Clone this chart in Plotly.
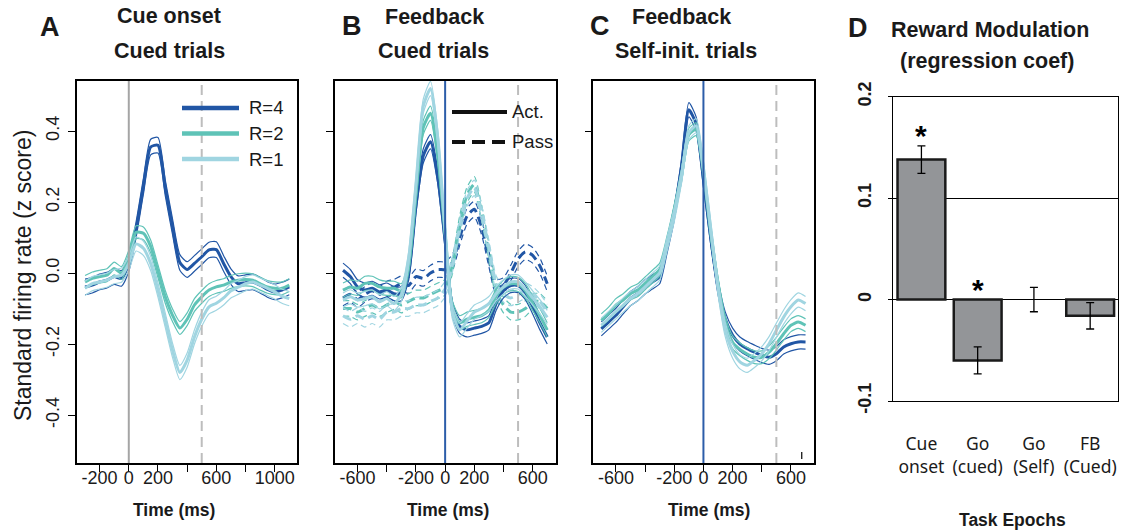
import plotly.graph_objects as go

W, H = 1133, 530
FONT = "Liberation Sans, Arial, Helvetica, sans-serif"
FONT_D = "Noto Sans, Open Sans, sans-serif"

# ---------------- data ----------------
reward_levels = ["R=4", "R=2", "R=1"]
reward_colors = ["#2156A5", "#5FC3B7", "#A0D5E1"]

# Panel A: cue onset, cued trials (mean z-score, SEM)
time_cue = list(range(-300, 1101, 50))
cue_r4 = [-0.039, -0.034, -0.025, -0.020, -0.010, -0.015, 0.027, 0.122, 0.244, 0.355,
          0.360, 0.240, 0.130, 0.030, 0.010, 0.027, 0.046, 0.065, 0.066, 0.027,
          -0.010, -0.030, -0.027, -0.025, -0.034, -0.046, -0.053, -0.048, -0.039]
cue_r2 = [-0.025, -0.015, -0.010, -0.006, 0.013, 0.000, 0.046, 0.115, 0.112, 0.075,
          0.005, -0.067, -0.119, -0.155, -0.130, -0.090, -0.067, -0.048, -0.039, -0.034,
          -0.025, -0.020, -0.018, -0.020, -0.030, -0.039, -0.043, -0.043, -0.034]
cue_r1 = [-0.043, -0.030, -0.025, -0.020, -0.010, -0.006, 0.027, 0.082, 0.070, 0.027,
          -0.048, -0.133, -0.218, -0.280, -0.245, -0.180, -0.130, -0.095, -0.085, -0.070,
          -0.050, -0.040, -0.030, -0.025, -0.034, -0.043, -0.053, -0.065, -0.072]
cue_sem = [0.022, 0.018, 0.020]

# Panel B: feedback, cued trials (active = solid, passive = dashed)
time_fb = list(range(-700, 701, 50))
fb_act_r4 = [0.008, -0.010, -0.039, -0.048, -0.043, -0.053, -0.048, -0.058, -0.058, 0.000,
             0.190, 0.330, 0.370, 0.270, 0.090, -0.100, -0.150, -0.160, -0.155, -0.150,
             -0.140, -0.085, -0.050, -0.035, -0.035, -0.055, -0.095, -0.140, -0.180]
fb_act_r2 = [-0.048, -0.039, -0.043, -0.029, -0.029, -0.039, -0.043, -0.043, -0.050, 0.020,
             0.220, 0.410, 0.450, 0.330, 0.110, -0.100, -0.140, -0.130, -0.125, -0.120,
             -0.105, -0.065, -0.040, -0.030, -0.032, -0.050, -0.085, -0.120, -0.160]
fb_act_r1 = [-0.076, -0.067, -0.076, -0.072, -0.067, -0.081, -0.072, -0.086, -0.060, 0.040,
             0.250, 0.470, 0.520, 0.380, 0.120, -0.110, -0.160, -0.135, -0.110, -0.100,
             -0.086, -0.058, -0.039, -0.025, -0.025, -0.045, -0.070, -0.095, -0.125]
fb_pas_r4 = [-0.070, -0.060, -0.075, -0.060, -0.050, -0.060, -0.045, -0.040, -0.030, -0.035,
             -0.010, -0.015, 0.000, 0.010, 0.010, 0.030, 0.100, 0.160, 0.180, 0.130,
             0.040, -0.040, -0.035, 0.000, 0.040, 0.060, 0.050, 0.020, -0.030]
fb_pas_r2 = [-0.100, -0.100, -0.110, -0.100, -0.090, -0.100, -0.090, -0.080, -0.090, -0.080,
             -0.070, -0.070, -0.060, -0.050, -0.040, 0.020, 0.140, 0.220, 0.250, 0.170,
             0.060, -0.050, -0.090, -0.110, -0.110, -0.100, -0.080, -0.080, -0.100]
fb_pas_r1 = [-0.120, -0.130, -0.120, -0.130, -0.120, -0.130, -0.110, -0.110, -0.100, -0.100,
             -0.090, -0.090, -0.080, -0.070, -0.045, 0.025, 0.130, 0.210, 0.240, 0.170,
             0.070, -0.030, -0.060, -0.070, -0.060, -0.050, -0.060, -0.080, -0.110]
fb_act_sem = [0.020, 0.020, 0.020]
fb_pas_sem = [0.022, 0.022, 0.022]

# Panel C: feedback, self-initiated trials
fb_self_r4 = [-0.157, -0.138, -0.119, -0.095, -0.072, -0.058, -0.039, -0.025, -0.010, 0.075,
              0.170, 0.300, 0.460, 0.420, 0.263, 0.100, -0.040, -0.130, -0.175, -0.200,
              -0.213, -0.223, -0.232, -0.237, -0.227, -0.208, -0.199, -0.194, -0.194]
fb_self_r2 = [-0.133, -0.114, -0.090, -0.076, -0.058, -0.048, -0.029, -0.010, 0.010, 0.085,
              0.175, 0.275, 0.390, 0.405, 0.285, 0.115, -0.030, -0.140, -0.195, -0.215,
              -0.228, -0.237, -0.237, -0.223, -0.199, -0.171, -0.147, -0.138, -0.147]
fb_self_r1 = [-0.147, -0.128, -0.109, -0.090, -0.072, -0.058, -0.039, -0.020, 0.000, 0.080,
              0.165, 0.273, 0.395, 0.415, 0.295, 0.125, -0.040, -0.160, -0.220, -0.250,
              -0.260, -0.246, -0.227, -0.199, -0.161, -0.124, -0.095, -0.076, -0.086]
fb_self_sem = [0.020, 0.018, 0.020]

# Panel D: reward modulation (regression coefficients)
epochs = ["Cue<br>onset", "Go<br>(cued)", "Go<br>(Self)", "FB<br>(Cued)"]
coef = [0.138, -0.060, 0.000, -0.016]
coef_err = [0.0135, 0.0133, 0.012, 0.013]
significant = [True, True, False, False]

# event markers (ms)
event_onset = 0
event_end = 500

# tick labels
cue_ticks = [-200, 0, 200, 400, 600, 800, 1000]
cue_ticktext = ["-200", "0", "200", "", "600", "", "1000"]
fb_ticks = [-600, -400, -200, 0, 200, 400, 600]
fb_ticktext = ["-600", "", "-200", "0", "200", "", "600"]
z_ticks = [-0.4, -0.2, 0.0, 0.2, 0.4]
z_ticktext = ["-0.4", "-0.2", "0.0", "0.2", "0.4"]
coef_ticks = [-0.1, 0.0, 0.1, 0.2]
coef_ticktext = ["-0.1", "0", "0.1", "0.2"]


def px(x):
    return x / W


def py(y):
    return 1 - y / H


fig = go.Figure()


def add_band(t, mean, sem, color, xa, ya, dash=None):
    upper = [m + sem for m in mean]
    lower = [m - sem for m in mean]
    thin_dash = None if dash is None else "6px,4px"
    thick_dash = None if dash is None else "9px,5px"
    for series in (lower, upper):
        fig.add_trace(go.Scatter(
            x=t, y=series, mode="lines", xaxis=xa, yaxis=ya, showlegend=False,
            hoverinfo="skip",
            line=dict(color=color, width=1.2, dash=thin_dash, shape="spline", smoothing=0.6)))
    fig.add_trace(go.Scatter(
        x=t, y=mean, mode="lines", xaxis=xa, yaxis=ya, showlegend=False,
        line=dict(color=color, width=3, dash=thick_dash, shape="spline", smoothing=0.6)))


# Panel A
for m, s, c in zip([cue_r4, cue_r2, cue_r1], cue_sem, reward_colors):
    add_band(time_cue, m, s, c, "x", "y")

# Panel B (passive drawn first, then active)
for m, s, c in zip([fb_pas_r4, fb_pas_r2, fb_pas_r1], fb_pas_sem, reward_colors):
    add_band(time_fb, m, s, c, "x2", "y2", dash=True)
for m, s, c in zip([fb_act_r4, fb_act_r2, fb_act_r1], fb_act_sem, reward_colors):
    add_band(time_fb, m, s, c, "x2", "y2")

# Panel C
for m, s, c in zip([fb_self_r4, fb_self_r2, fb_self_r1], fb_self_sem, reward_colors):
    add_band(time_fb, m, s, c, "x3", "y3")

# Panel D (no outline for zero-height bar)
bar_outline = [0 if v == 0 else 2.5 for v in coef]
fig.add_trace(go.Bar(
    x=epochs, y=coef, xaxis="x4", yaxis="y4", width=0.85, showlegend=False,
    marker=dict(color="#939598", line=dict(color="#1a1a1a", width=bar_outline)),
    error_y=dict(type="data", array=coef_err, color="black", thickness=1.3, width=4)))

annotations = []
for cat, v, e, sig in zip(epochs, coef, coef_err, significant):
    if sig:
        base = v + e if v > 0 else 0.0
        annotations.append(dict(
            x=cat, y=base + 0.016, xref="x4", yref="y4", text="<b>*</b>", showarrow=False,
            font=dict(family=FONT, size=30, color="black"), yshift=-6))

# ---------------- axes ----------------
yA = [1 - 463 / H, 1 - 81 / H]
zrange = [-0.535, 0.541]
common_ax = dict(showline=True, mirror=True, linecolor="black", linewidth=1.6,
                 ticks="outside", tickcolor="black", tickwidth=1.3, ticklen=7,
                 showgrid=False, zeroline=False, automargin=False,
                 tickfont=dict(family=FONT, size=18, color="#1a1a1a"))

fig.update_layout(
    template="none",
    xaxis=dict(domain=[px(77), px(297)], range=[-355, 1153], anchor="y",
               tickvals=cue_ticks, ticktext=cue_ticktext, ticklabelstandoff=-9, **common_ax),
    yaxis=dict(domain=yA, range=zrange, anchor="x", tickvals=z_ticks,
               ticktext=z_ticktext, tickangle=-90, ticklabelstandoff=2, **common_ax),
    xaxis2=dict(domain=[px(335), px(555.7)], range=[-755, 758], anchor="y2",
                tickvals=fb_ticks, ticktext=fb_ticktext, ticklabelstandoff=-9, **common_ax),
    yaxis2=dict(domain=yA, range=zrange, anchor="x2", tickvals=z_ticks,
                showticklabels=False, **common_ax),
    xaxis3=dict(domain=[px(593.3), px(814)], range=[-755, 758], anchor="y3",
                tickvals=fb_ticks, ticktext=fb_ticktext, ticklabelstandoff=-9, **common_ax),
    yaxis3=dict(domain=yA, range=zrange, anchor="x3", tickvals=z_ticks,
                showticklabels=False, **common_ax),
    xaxis4=dict(domain=[px(893.3), px(1118.3)], range=[-0.5, 3.5], anchor="y4",
                type="category", showline=True, mirror=True, linecolor="black",
                linewidth=1.2, ticks="", showgrid=False, zeroline=False,
                ticklabelstandoff=27, automargin=False,
                tickfont=dict(family=FONT_D, size=17.5, color="#1a1a1a")),
    yaxis4=dict(domain=[1 - 401 / H, 1 - 96.7 / H], range=[-0.1, 0.2], anchor="x4",
                tickvals=coef_ticks, ticktext=coef_ticktext, tickangle=-90,
                showline=True, mirror=True, linecolor="black", linewidth=1.2,
                ticks="outside", ticklen=4, tickcolor="black", tickwidth=1.2,
                showgrid=True, gridcolor="black", gridwidth=1,
                zeroline=True, zerolinecolor="black", zerolinewidth=1,
                ticklabelstandoff=10, automargin=False,
                tickfont=dict(family=FONT, size=18, color="#1a1a1a", weight="bold")),
)

# ---------------- event lines ----------------
shapes = []
grey_solid = "#A5A5A5"
grey_dash = "#BDBDBD"
blue_line = "#2C5DA9"
for xa, ya, c0 in (("x", "y", grey_solid), ("x2", "y2", blue_line), ("x3", "y3", blue_line)):
    shapes.append(dict(type="line", xref=xa, yref=ya + " domain", x0=event_onset, x1=event_onset,
                       y0=0, y1=1, line=dict(color=c0, width=2)))
    shapes.append(dict(type="line", xref=xa, yref=ya + " domain", x0=event_end, x1=event_end,
                       y0=0, y1=1, line=dict(color=grey_dash, width=2, dash="10px,6px")))
# small mark in panel C
shapes.append(dict(type="line", xref="x3", yref="y3", x0=674, x1=674, y0=-0.504, y1=-0.524,
                   line=dict(color="black", width=1.2)))

# ---------------- legends ----------------
leg_rows = [108, 133.5, 159]
for lab, col, yy in zip(reward_levels, reward_colors, leg_rows):
    shapes.append(dict(type="line", xref="paper", yref="paper", x0=px(182), x1=px(239),
                       y0=py(yy), y1=py(yy), line=dict(color=col, width=4.5)))
    annotations.append(dict(x=px(247), y=py(yy), xref="paper", yref="paper", text=lab,
                            xanchor="left", yanchor="middle", showarrow=False,
                            font=dict(family=FONT, size=18.5, color="#1a1a1a")))
for lab, dash, yy in (("Act.", None, 112), ("Pass", "13px,7px", 142)):
    shapes.append(dict(type="line", xref="paper", yref="paper", x0=px(452), x1=px(507),
                       y0=py(yy), y1=py(yy), line=dict(color="#111111", width=4, dash=dash)))
    annotations.append(dict(x=px(509.5), y=py(yy), xref="paper", yref="paper", text=lab,
                            xanchor="left", yanchor="middle", showarrow=False,
                            font=dict(family=FONT, size=18.5, color="#1a1a1a")))

# ---------------- titles / labels ----------------
def label(text, x, y, size, bold=True, angle=0, family=FONT):
    t = f"<b>{text}</b>" if bold else text
    annotations.append(dict(x=px(x), y=py(y), xref="paper", yref="paper", text=t,
                            showarrow=False, xanchor="center", yanchor="middle",
                            textangle=angle, font=dict(family=family, size=size, color="#1a1a1a")))


label("A", 50, 27, 27)
label("Cue onset", 169, 16, 21.5)
label("Cued trials", 169, 51, 21.5)
label("B", 352, 26, 27)
label("Feedback", 434, 17, 21.5)
label("Cued trials", 433.7, 51, 21.5)
label("C", 600, 26, 27)
label("Feedback", 681, 17, 21.5)
label("Self-init. trials", 686, 51, 21.5)
label("D", 858, 27.5, 27)
label("Reward Modulation", 989.7, 29.5, 21.5)
label("(regression coef)", 987, 61, 21.5)
label("Time (ms)", 174, 510, 17.5)
label("Time (ms)", 448, 510, 17.5)
label("Time (ms)", 708.7, 510, 17.5)
label("Task Epochs", 1012, 520, 17.5)
label("Standard firing rate (z score)", 23, 276, 23, bold=False, angle=-90)

fig.update_layout(
    width=W, height=H, autosize=False,
    margin=dict(l=0, r=0, t=0, b=0, pad=0),
    paper_bgcolor="white", plot_bgcolor="white",
    shapes=shapes, annotations=annotations, showlegend=False,
    font=dict(family=FONT, color="#1a1a1a"),
)

fig.write_html("out.html", config={"displayModeBar": False},
               post_script="document.body.style.margin='0px';document.body.style.overflow='hidden';")
